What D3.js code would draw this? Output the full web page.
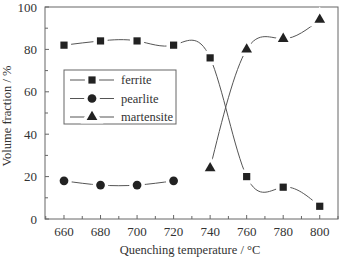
<!DOCTYPE html>
<html lang="en">
  <head>
    <meta charset="utf-8">
    <title>Volume fraction vs quenching temperature</title>
    <script src="https://cdnjs.cloudflare.com/ajax/libs/d3/7.8.5/d3.min.js"></script>
    <style>
      body { margin: 0; background: #fff; }
      text { font-family: "Liberation Serif", "DejaVu Serif", serif; fill: #333; }
    </style>
  </head>
  <body>
    <div id="chartDiv"></div>
    <script>
      // data
      var temps = [660, 680, 700, 720, 740, 760, 780, 800];
      var ferrite = [82, 84, 84, 82, 76, 20, 15, 6];
      var pearliteTemps = [660, 680, 700, 720];
      var pearlite = [18, 16, 16, 18];
      var martensiteTemps = [740, 760, 780, 800];
      var martensite = [24, 80, 85, 94];
      var xTicks = [660, 680, 700, 720, 740, 760, 780, 800];
      var yTicks = [0, 20, 40, 60, 80, 100];

      var chartWd = 341, chartHt = 257;
      var padL = 45, padR = 338, padT = 7, padB = 219;

      var svg = d3.select("#chartDiv").append("svg")
          .attr("width", chartWd)
          .attr("height", chartHt);

      var x = d3.scaleLinear().domain([649.6, 810]).range([padL, padR]);
      var y = d3.scaleLinear().domain([0, 100]).range([padB, padT]);

      // frame
      svg.append("rect")
         .attr("x", padL).attr("y", padT)
         .attr("width", padR - padL).attr("height", padB - padT)
         .attr("fill", "none").attr("stroke", "#666").attr("stroke-width", 1);

      // ticks, pointing inward
      d3.range(650, 811, 10).forEach(function(t){
        svg.append("line")
           .attr("x1", x(t)).attr("x2", x(t))
           .attr("y1", padB).attr("y2", padB - (t % 20 == 0 ? 4 : 3))
           .attr("stroke", "#666");
      });
      d3.range(0, 101, 10).forEach(function(t){
        svg.append("line")
           .attr("x1", padL).attr("x2", padL + (t % 20 == 0 ? 4 : 3))
           .attr("y1", y(t)).attr("y2", y(t))
           .attr("stroke", "#666");
      });

      svg.selectAll("text.xtick")
         .data(xTicks).enter().append("text")
         .attr("class", "xtick")
         .attr("x", function(d){ return x(d); })
         .attr("y", 236)
         .attr("text-anchor", "middle")
         .attr("font-size", "13px")
         .text(function(d){ return d; });

      svg.selectAll("text.ytick")
         .data(yTicks).enter().append("text")
         .attr("class", "ytick")
         .attr("x", 37)
         .attr("y", function(d){ return y(d) + 4.5; })
         .attr("text-anchor", "end")
         .attr("font-size", "13px")
         .text(function(d){ return d; });

      svg.append("text")
         .attr("x", 190).attr("y", 254)
         .attr("text-anchor", "middle")
         .attr("font-size", "12.5px")
         .text("Quenching temperature / \u00B0C");

      svg.append("text")
         .attr("transform", "translate(11,116) rotate(-90)")
         .attr("text-anchor", "middle")
         .attr("font-size", "12.5px")
         .text("Volume fraction / %");

      var line = d3.line()
          .x(function(d){ return x(d[0]); })
          .y(function(d){ return y(d[1]); })
          .curve(d3.curveNatural);

      var series = [
        {name: "ferrite", shape: "square", pts: d3.zip(temps, ferrite)},
        {name: "pearlite", shape: "circle", pts: d3.zip(pearliteTemps, pearlite)},
        {name: "martensite", shape: "triangle", pts: d3.zip(martensiteTemps, martensite)}
      ];

      var symbols = {
        square: d3.symbol().type(d3.symbolSquare).size(52),
        circle: d3.symbol().type(d3.symbolCircle).size(60),
        triangle: d3.symbol().type(d3.symbolTriangle).size(50)
      };

      series.forEach(function(s){
        svg.append("path")
           .attr("d", line(s.pts))
           .attr("fill", "none")
           .attr("stroke", "#555")
           .attr("stroke-width", 1);
      });

      var drawMarker = function(g, shape, cx, cy){
        g.append("path")
         .attr("d", symbols[shape]())
         .attr("transform", "translate(" + cx + "," + cy + ")")
         .attr("fill", "#fff").attr("stroke", "#fff").attr("stroke-width", 7);
        g.append("path")
         .attr("d", symbols[shape]())
         .attr("transform", "translate(" + cx + "," + cy + ")")
         .attr("fill", "#222");
      };

      series.forEach(function(s){
        s.pts.forEach(function(p){
          drawMarker(svg, s.shape, x(p[0]), y(p[1]));
        });
      });

      // legend
      var lg = svg.append("g");
      lg.append("rect")
        .attr("x", 64).attr("y", 70).attr("width", 112).attr("height", 54)
        .attr("fill", "#fff").attr("stroke", "#666");
      series.forEach(function(s, i){
        var ly = 80 + i * 18.5;
        lg.append("line")
          .attr("x1", 70).attr("x2", 114).attr("y1", ly).attr("y2", ly)
          .attr("stroke", "#555");
        drawMarker(lg, s.shape, 92, ly);
        lg.append("text")
          .attr("x", 121).attr("y", ly + 4)
          .attr("font-size", "12.5px")
          .text(s.name);
      });
    </script>
  </body>
</html>
